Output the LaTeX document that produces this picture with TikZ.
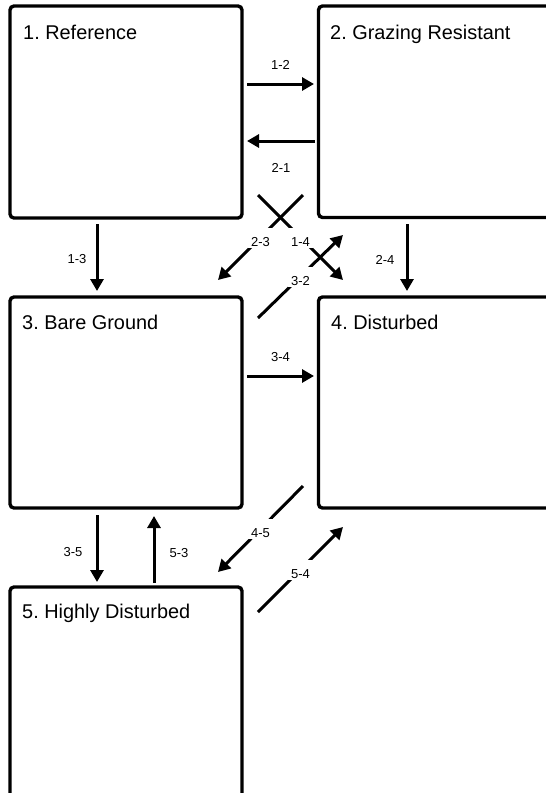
\documentclass[tikz,border=0pt]{standalone}
\usepackage{fontspec}
\setmainfont{Liberation Sans}
\usetikzlibrary{arrows.meta}
\frenchspacing
\begin{document}
\begin{tikzpicture}[x=1pt,y=-1pt,
  statebox/.style={draw=black, line width=3.4pt, rounded corners=4pt, fill=white,
    inner sep=0pt, outer sep=0pt, anchor=north west},
  title/.style={anchor=base west, inner sep=0pt, font=\fontsize{19.9}{22}\selectfont},
  conn/.style={line width=3pt, -{Triangle[length=12pt,width=13pt]}},
  lbl/.style={font=\fontsize{13}{15}\selectfont, inner sep=0pt},
  onlbl/.style={lbl, fill=white, text height=17pt, text depth=0pt,
    inner xsep=3pt, inner ysep=1.5pt}]
\useasboundingbox (0,0) rectangle (546,793);
\clip (0,0) rectangle (546,793);

% state boxes
\node[statebox, minimum width=232pt, minimum height=212pt] (b1) at (10,6) {};
\node[statebox, minimum width=300pt, minimum height=211.5pt] (b2) at (318.5,6) {};
\node[statebox, minimum width=232pt, minimum height=211pt] (b3) at (10,297) {};
\node[statebox, minimum width=300pt, minimum height=211pt] (b4) at (318.5,297) {};
\node[statebox, minimum width=232pt, minimum height=300pt] (b5) at (10,587) {};

% state titles
\node[title] (t1) at (23,39) {1. Reference};
\node[title] (t2) at (330,39) {2. Grazing Resistant};
\node[title] (t3) at (22,329) {3. Bare Ground};
\node[title] (t4) at (331,329) {4. Disturbed};
\node[title] (t5) at (22,618) {5. Highly Disturbed};

% transition end points
\coordinate (s12) at (247,84);   \coordinate (e12) at (314,84);
\coordinate (s21) at (315,141);  \coordinate (e21) at (247,141);
\coordinate (s13) at (97,224);   \coordinate (e13) at (97,291);
\coordinate (s24) at (407,224);  \coordinate (e24) at (407,291);
\coordinate (s34) at (247,376);  \coordinate (e34) at (314,376);
\coordinate (s35) at (97,515);   \coordinate (e35) at (97,582);
\coordinate (s53) at (154,583);  \coordinate (e53) at (154,516);
\coordinate (s14) at (258,195);  \coordinate (e14) at (343,280);
\coordinate (s23) at (303,195);  \coordinate (e23) at (218,280);
\coordinate (s32) at (258,318);  \coordinate (e32) at (343,235);
\coordinate (s45) at (303,486);  \coordinate (e45) at (218,572);
\coordinate (s54) at (258,612);  \coordinate (e54) at (343,527);

% straight transitions with labels beside them
\draw[conn] (s12) -- node[lbl, yshift=19pt] (l12) {1-2} (e12);
\draw[conn] (s21) -- node[lbl, yshift=-27pt] (l21) {2-1} (e21);
\draw[conn] (s13) -- node[lbl, xshift=-20pt, yshift=-2pt] (l13) {1-3} (e13);
\draw[conn] (s24) -- node[lbl, xshift=-22pt, yshift=-2pt] (l24) {2-4} (e24);
\draw[conn] (s34) -- node[lbl, yshift=19pt] (l34) {3-4} (e34);
\draw[conn] (s35) -- node[lbl, xshift=-24pt, yshift=-4pt] (l35) {3-5} (e35);
\draw[conn] (s53) -- node[lbl, xshift=25pt, yshift=-4pt] (l53) {5-3} (e53);

% diagonal transitions, labels sit on the line
\draw[conn] (s14) -- node[onlbl] (l14) {1-4} (e14);
\draw[conn] (s23) -- node[onlbl] (l23) {2-3} (e23);
\draw[conn] (s32) -- node[onlbl] (l32) {3-2} (e32);
\draw[conn] (s45) -- node[onlbl] (l45) {4-5} (e45);
\draw[conn] (s54) -- node[onlbl] (l54) {5-4} (e54);
\end{tikzpicture}
\end{document}
